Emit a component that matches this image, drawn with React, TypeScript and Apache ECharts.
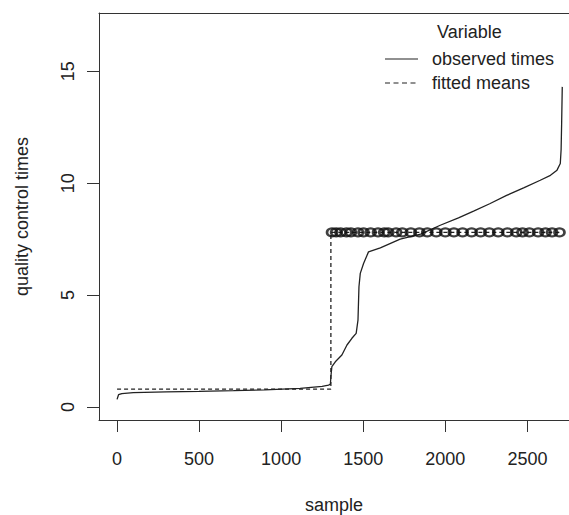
import React, { useEffect, useRef } from "react";
import * as echarts from "echarts";

// observed (sorted) quality control times
const obsX = [1, 10, 30, 100, 300, 500, 710, 900, 1116, 1250, 1289, 1300, 1303, 1309, 1330, 1370, 1401, 1431, 1457, 1468, 1474, 1482, 1502, 1532, 1604, 1725, 1850, 1969, 2080, 2172, 2270, 2373, 2480, 2578, 2640, 2680, 2700, 2705, 2708, 2712];
const obsY = [0.34, 0.55, 0.6, 0.64, 0.68, 0.7, 0.73, 0.77, 0.83, 0.92, 0.98, 1.02, 1.35, 1.8, 2.02, 2.32, 2.77, 3.07, 3.29, 3.88, 5.37, 5.97, 6.41, 6.93, 7.11, 7.5, 7.72, 8.12, 8.45, 8.75, 9.08, 9.45, 9.8, 10.13, 10.35, 10.58, 10.88, 11.5, 12.6, 14.3];

// fitted means (step)
const fitX = [1, 1303, 1303, 2712];
const fitY = [0.8, 0.8, 7.8, 7.8];

// circle markers on the upper fitted level
const markX = [1310, 1335, 1362, 1398, 1425, 1468, 1502, 1545, 1590, 1628, 1652, 1700, 1738, 1790, 1842, 1890, 1945, 2000, 2052, 2105, 2160, 2215, 2268, 2322, 2378, 2432, 2470, 2512, 2565, 2610, 2650, 2695];
const markLevel = 7.8;

const xTicks = [0, 500, 1000, 1500, 2000, 2500];
const yTicks = [0, 5, 10, 15];
const legendTitle = "Variable";
const legendLabels = ["observed times", "fitted means"];

export default function App() {
  const ref = useRef<HTMLDivElement>(null);
  useEffect(() => {
    const chart = echarts.init(ref.current!, null, { renderer: "svg" });
    const font = "'Liberation Sans', Arial, sans-serif";
    const txt = "#222";
    const fs = 18;
    const axisCol = "#333";
    chart.setOption({
      animation: false,
      backgroundColor: "#fff",
      grid: {
        left: 99,
        top: 13,
        right: 0,
        bottom: 95,
        show: false,
        outerBoundsMode: "none",
      },
      xAxis: [
        {
          type: "value",
          min: -109,
          max: 2753,
          name: "sample",
          nameLocation: "middle",
          nameGap: 76,
          nameTextStyle: { fontSize: fs, color: txt, fontFamily: font },
          axisLine: { show: true, onZero: false, lineStyle: { color: axisCol, width: 1 } },
          axisTick: { show: true, inside: false, length: 12, customValues: xTicks, lineStyle: { color: axisCol, width: 1 } },
          axisLabel: { customValues: xTicks, margin: 30, fontSize: fs, color: txt, fontFamily: font, formatter: (v: number) => String(v) },
          splitLine: { show: false },
        },
        {
          type: "value",
          position: "top",
          min: -109,
          max: 2753,
          axisLine: { show: true, onZero: false, lineStyle: { color: axisCol, width: 1 } },
          axisTick: { show: false },
          axisLabel: { show: false },
          splitLine: { show: false },
        },
      ],
      yAxis: {
        type: "value",
        min: -0.58,
        max: 17.6,
        name: "quality control times",
        nameLocation: "middle",
        nameGap: 68,
        nameTextStyle: { fontSize: fs, color: txt, fontFamily: font },
        axisLine: { show: true, onZero: false, lineStyle: { color: axisCol, width: 1 } },
        axisTick: { show: true, inside: false, length: 12, customValues: yTicks, lineStyle: { color: axisCol, width: 1 } },
        axisLabel: { customValues: yTicks, rotate: 90, margin: 22, fontSize: fs, color: txt, fontFamily: font, formatter: (v: number) => String(v) },
        splitLine: { show: false },
      },
      graphic: [
        { type: "text", x: 437, y: 32, style: { text: legendTitle, fill: txt, font: `${fs}px ${font}`, verticalAlign: "middle" } },
        { type: "line", shape: { x1: 385, y1: 59, x2: 418, y2: 59 }, style: { stroke: "#222", lineWidth: 1.2 } },
        { type: "text", x: 432, y: 59, style: { text: legendLabels[0], fill: txt, font: `${fs}px ${font}`, verticalAlign: "middle" } },
        { type: "line", shape: { x1: 385, y1: 83, x2: 418, y2: 83 }, style: { stroke: "#222", lineWidth: 1.2, lineDash: [5, 3.5] } },
        { type: "text", x: 432, y: 83, style: { text: legendLabels[1], fill: txt, font: `${fs}px ${font}`, verticalAlign: "middle" } },
      ],
      series: [
        {
          name: legendLabels[0],
          type: "line",
          data: obsX.map((x, i) => [x, obsY[i]]),
          symbol: "none",
          lineStyle: { color: "#222", width: 1.3 },
          z: 3,
        },
        {
          name: legendLabels[1],
          type: "line",
          data: fitX.map((x, i) => [x, fitY[i]]),
          symbol: "none",
          lineStyle: { color: "#222", width: 1.3, type: [4, 3] },
          z: 2,
        },
        {
          name: "fitted points",
          type: "scatter",
          data: markX.map((x) => [x, markLevel]),
          symbol: "circle",
          symbolSize: [10, 8],
          itemStyle: { color: "transparent", borderColor: "#111", borderWidth: 2.4 },
          z: 4,
        },
      ],
    });
    return () => chart.dispose();
  }, []);
  return (
    <div
      ref={ref}
      style={{ position: "fixed", left: 0, top: 0, width: 569, height: 515, background: "#fff" }}
    />
  );
}
